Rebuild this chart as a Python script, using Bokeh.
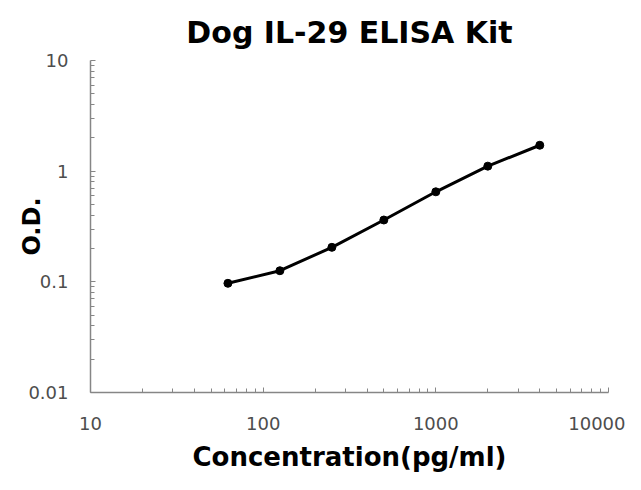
from bokeh.plotting import figure
from bokeh.models import FixedTicker, ColumnDataSource
from bokeh.embed import file_html
from bokeh.resources import INLINE

# Data
concentration = [62.5, 125, 250, 500, 1000, 2000, 4000]
od = [0.097, 0.126, 0.205, 0.362, 0.651, 1.11, 1.715]

x_ticks = [10, 100, 1000, 10000]
x_tick_labels = ["10", "100", "1000", "10000"]
y_ticks = [0.01, 0.1, 1, 10]
y_tick_labels = ["0.01", "0.1", "1", "10"]

title_text = "Dog IL-29 ELISA Kit"
x_title = "Concentration(pg/ml)"
y_title = "O.D."

src = ColumnDataSource(data=dict(x=concentration, y=od))

p = figure(width=625, height=474, x_axis_type="log", y_axis_type="log",
           x_range=(10, 10000), y_range=(0.01, 10),
           output_backend="svg", toolbar_location=None,
           min_border_left=90, min_border_right=17, min_border_top=60,
           min_border_bottom=81)

p.title.text = title_text
p.title.align = "center"
p.title.text_font = "DejaVu Sans"
p.title.text_font_style = "bold"
p.title.text_font_size = "30px"
p.title.text_color = "black"
p.title.standoff = 21

p.outline_line_color = None
p.xgrid.visible = False
p.ygrid.visible = False
p.background_fill_color = "white"
p.border_fill_color = "white"

def minors(majors):
    out = []
    for m in majors[:-1]:
        for k in range(2, 10):
            out.append(m * k)
    return out

p.xaxis.ticker = FixedTicker(ticks=x_ticks, minor_ticks=minors(x_ticks))
p.yaxis.ticker = FixedTicker(ticks=y_ticks, minor_ticks=minors(y_ticks))
p.xaxis.major_label_overrides = {t: l for t, l in zip(x_ticks, x_tick_labels)}
p.yaxis.major_label_overrides = {t: l for t, l in zip(y_ticks, y_tick_labels)}

for ax in (p.xaxis, p.yaxis):
    ax.axis_line_color = "#868686"
    ax.axis_line_width = 1.5
    ax.major_tick_line_color = "#868686"
    ax.minor_tick_line_color = "#868686"
    ax.major_tick_in = 5
    ax.major_tick_out = 0
    ax.minor_tick_in = 4
    ax.minor_tick_out = 0
    ax.major_label_text_font = "DejaVu Sans"
    ax.major_label_text_font_size = "18px"
    ax.major_label_text_color = "#4d4d4d"
    ax.axis_label_text_font = "DejaVu Sans"
    ax.axis_label_text_font_style = "bold"
    ax.axis_label_text_color = "black"

p.xaxis.axis_label = x_title
p.xaxis.axis_label_text_font_size = "26px"
p.xaxis.major_label_standoff = 24
p.xaxis.axis_label_standoff = 9

p.yaxis.axis_label = y_title
p.yaxis.axis_label_text_font_size = "24px"
p.yaxis.major_label_standoff = 22
p.yaxis.axis_label_standoff = -21

p.line("x", "y", source=src, line_color="black", line_width=3)
p.scatter("x", "y", source=src, size=8, fill_color="black", line_color="black")

open("out.html", "w").write(file_html(p, INLINE))
